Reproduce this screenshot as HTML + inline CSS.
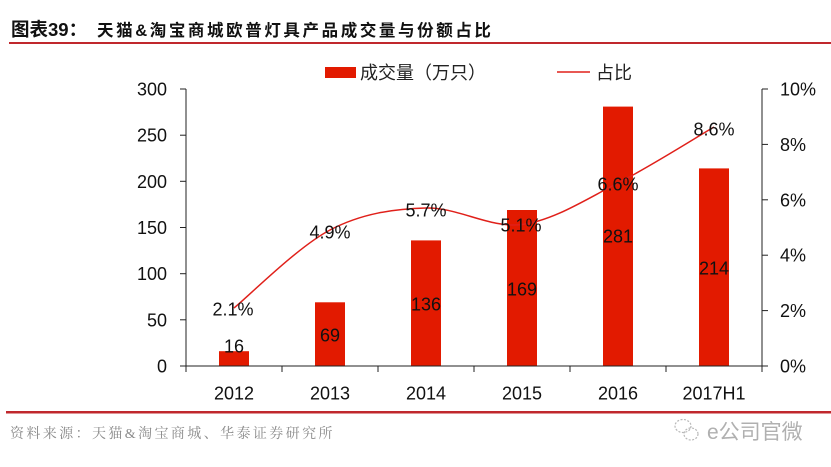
<!DOCTYPE html>
<html><head><meta charset="utf-8"><style>
html,body{margin:0;padding:0;background:#fff;}
svg{display:block;}
</style></head><body>
<svg width="831" height="467" viewBox="0 0 831 467" xmlns="http://www.w3.org/2000/svg">
<rect width="831" height="467" fill="#fff"/>
<!-- Title -->
<text x="11" y="36" font-family="'Liberation Sans','Noto Sans CJK SC',sans-serif" font-size="18.5" font-weight="bold" fill="#111">图表39：</text>
<text x="97" y="36" font-family="'Liberation Sans','Noto Sans CJK SC',sans-serif" font-size="16.5" font-weight="bold" letter-spacing="2.6" fill="#111">天猫&amp;淘宝商城欧普灯具产品成交量与份额占比</text>
<rect x="9" y="42" width="822" height="2" fill="#c0282d"/>

<!-- Legend -->
<rect x="325" y="67" width="31" height="11" fill="#e21a00"/>
<text x="360" y="79" font-family="'Liberation Sans','Noto Sans CJK SC',sans-serif" font-size="18" fill="#222">成交量（万只）</text>
<line x1="557" y1="72" x2="590" y2="72" stroke="#e0201a" stroke-width="1.5"/>
<text x="596" y="79" font-family="'Liberation Sans','Noto Sans CJK SC',sans-serif" font-size="18" fill="#222">占比</text>

<!-- Bars -->
<g fill="#e21a00">
<rect x="219" y="351.2" width="30" height="14.8"/>
<rect x="315" y="302.3" width="30" height="63.7"/>
<rect x="411" y="240.4" width="30" height="125.6"/>
<rect x="507" y="210" width="30" height="156"/>
<rect x="603" y="106.6" width="30" height="259.4"/>
<rect x="699" y="168.4" width="30" height="197.6"/>
</g>

<!-- Axes -->
<g stroke="#222" stroke-width="1" fill="none">
<line x1="186" y1="89" x2="186" y2="366"/>
<line x1="762" y1="89" x2="762" y2="366"/>
<line x1="186" y1="366" x2="762" y2="366"/>
<line x1="180" y1="89" x2="186" y2="89"/>
<line x1="180" y1="135.2" x2="186" y2="135.2"/>
<line x1="180" y1="181.3" x2="186" y2="181.3"/>
<line x1="180" y1="227.5" x2="186" y2="227.5"/>
<line x1="180" y1="273.7" x2="186" y2="273.7"/>
<line x1="180" y1="319.8" x2="186" y2="319.8"/>
<line x1="180" y1="366" x2="186" y2="366"/>
<line x1="762" y1="89" x2="768" y2="89"/>
<line x1="762" y1="144.4" x2="768" y2="144.4"/>
<line x1="762" y1="199.8" x2="768" y2="199.8"/>
<line x1="762" y1="255.2" x2="768" y2="255.2"/>
<line x1="762" y1="310.6" x2="768" y2="310.6"/>
<line x1="762" y1="366" x2="768" y2="366"/>
<line x1="186" y1="366" x2="186" y2="372"/>
<line x1="282" y1="366" x2="282" y2="372"/>
<line x1="378" y1="366" x2="378" y2="372"/>
<line x1="474" y1="366" x2="474" y2="372"/>
<line x1="570" y1="366" x2="570" y2="372"/>
<line x1="666" y1="366" x2="666" y2="372"/>
<line x1="762" y1="366" x2="762" y2="372"/>
</g>

<!-- Left labels -->
<g font-family="'Liberation Sans',sans-serif" font-size="18" fill="#111" text-anchor="end">
<text x="167" y="95.5">300</text>
<text x="167" y="141.7">250</text>
<text x="167" y="187.8">200</text>
<text x="167" y="234">150</text>
<text x="167" y="280.2">100</text>
<text x="167" y="326.3">50</text>
<text x="167" y="372.5">0</text>
</g>
<!-- Right labels -->
<g font-family="'Liberation Sans',sans-serif" font-size="18" fill="#111" text-anchor="start">
<text x="780" y="95.5">10%</text>
<text x="780" y="150.9">8%</text>
<text x="780" y="206.3">6%</text>
<text x="780" y="261.7">4%</text>
<text x="780" y="317.1">2%</text>
<text x="780" y="372.5">0%</text>
</g>
<!-- X labels -->
<g font-family="'Liberation Sans',sans-serif" font-size="18" fill="#111" text-anchor="middle">
<text x="234" y="399.5">2012</text>
<text x="330" y="399.5">2013</text>
<text x="426" y="399.5">2014</text>
<text x="522" y="399.5">2015</text>
<text x="618" y="399.5">2016</text>
<text x="714" y="399.5">2017H1</text>
</g>

<!-- Line -->
<path d="M234,308 C250,295 298,246.7 330,230 C362,213.3 394,208.9 426,208 C458,207.1 490,228.7 522,224.5 C554,220.3 586,199.25 618,183 C650,166.75 698,136.3 714,127" fill="none" stroke="#e0201a" stroke-width="1.5"/>

<!-- Data labels -->
<g font-family="'Liberation Sans',sans-serif" font-size="18" fill="#111" text-anchor="middle">
<text x="234" y="352.5">16</text>
<text x="330" y="341.5">69</text>
<text x="426" y="310.5">136</text>
<text x="522" y="295.5">169</text>
<text x="618" y="242.5">281</text>
<text x="714" y="274.5">214</text>
<text x="233" y="315.5">2.1%</text>
<text x="330" y="238.5">4.9%</text>
<text x="426" y="216.5">5.7%</text>
<text x="521" y="231.5">5.1%</text>
<text x="618" y="190.5">6.6%</text>
<text x="714" y="135.5">8.6%</text>
</g>

<!-- Footer -->
<rect x="6" y="411" width="825" height="2.5" fill="#c0282d"/>
<text x="10" y="438" font-family="'Liberation Serif','Noto Serif CJK SC',serif" font-size="14" letter-spacing="2.4" fill="#8a8a8a">资料来源：天猫&amp;淘宝商城、华泰证券研究所</text>

<!-- Watermark -->
<g fill="none" stroke="#b8b8b8" stroke-width="1.2" stroke-dasharray="2,1.5">
<ellipse cx="683" cy="426" rx="8" ry="6.5"/>
<ellipse cx="691" cy="434" rx="7" ry="6"/>
</g>
<text x="707" y="439" font-family="'Liberation Sans','Noto Sans CJK SC',sans-serif" font-size="21" fill="#b0b0b0">e公司官微</text>
</svg>
</body></html>
